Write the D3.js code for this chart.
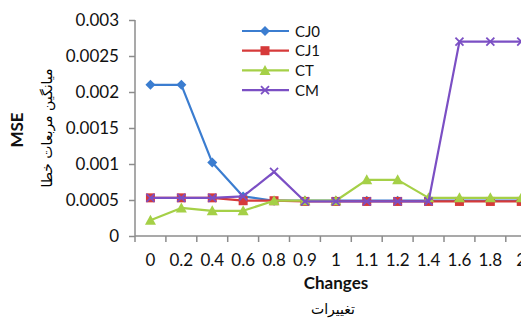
<!DOCTYPE html>
<html><head><meta charset="utf-8">
<script src="https://cdn.jsdelivr.net/npm/d3@7"></script>
<style>body{margin:0;background:#fff;overflow:hidden}svg{display:block}</style>
</head><body>
<script>
const categories = ["0","0.2","0.4","0.6","0.8","0.9","1","1.1","1.2","1.4","1.6","1.8","2"];
const cj0 = [0.0021,0.0021,0.00102,0.00055,0.00049,0.00049,0.00049,0.00049,0.00049,0.00049,0.00049,0.00049,0.00049];
const cj1 = [0.00053,0.00053,0.00053,0.00049,0.00049,0.00048,0.00048,0.00048,0.00048,0.00048,0.00048,0.00048,0.00048];
const ct  = [0.00022,0.00039,0.00035,0.00035,0.00049,0.00049,0.00049,0.00078,0.00078,0.00053,0.00053,0.00053,0.00053];
const cm  = [0.00053,0.00053,0.00053,0.00055,0.00089,0.00048,0.00048,0.00048,0.00048,0.00048,0.0027,0.0027,0.0027];
const seriesNames = ["CJ0","CJ1","CT","CM"];
const yTicks = [0,0.0005,0.001,0.0015,0.002,0.0025,0.003];

const series = [
  {name:seriesNames[0], values:cj0, color:"#3b7dd0", marker:"diamond"},
  {name:seriesNames[1], values:cj1, color:"#d63a3a", marker:"square"},
  {name:seriesNames[2], values:ct,  color:"#a5d047", marker:"triangle"},
  {name:seriesNames[3], values:cm,  color:"#7b4fc4", marker:"x"}
];

const W=521,H=320;
const svg=d3.select("body").append("svg").attr("width",W).attr("height",H);
const font="Lato, 'Open Sans', sans-serif";

const x=d3.scaleBand().domain(categories).range([135,536.7]);
const y=d3.scaleLinear().domain([0,0.003]).range([236,20]);

// y axis
const ya=svg.append("g").attr("transform","translate(135,0)")
  .call(d3.axisLeft(y).tickValues(yTicks).tickSize(6).tickPadding(10).tickFormat(d=>d===0?"0":String(+d.toFixed(4))));
ya.select(".domain").attr("stroke","#8c8c8c").attr("stroke-width",1.5).attr("d","M0,20V236");
ya.selectAll(".tick line").attr("stroke","#8c8c8c").attr("stroke-width",1.5);
ya.selectAll(".tick text").attr("font-family",font).attr("font-size",17).attr("fill","#111");

// x axis
const xa=svg.append("g").attr("transform","translate(0,236)")
  .call(d3.axisBottom(x).tickSize(0).tickPadding(18));
xa.select(".domain").attr("stroke","#8c8c8c").attr("stroke-width",1.5).attr("d","M135,0H536.7");
xa.selectAll(".tick line").remove();
xa.selectAll(".tick text").attr("font-family",font).attr("font-size",17).attr("fill","#111");
const edges=categories.map(c=>x(c));
xa.selectAll("line.tk").data(edges).join("line").attr("class","tk")
  .attr("x1",d=>d).attr("x2",d=>d).attr("y1",0).attr("y2",6)
  .attr("stroke","#8c8c8c").attr("stroke-width",1.5);

// titles
svg.append("text").attr("x",336).attr("y",289).attr("text-anchor","middle")
  .attr("font-family",font).attr("font-weight","bold").attr("font-size",17).attr("fill","#111").text("Changes");
svg.append("text").attr("x",333).attr("y",314).attr("text-anchor","middle").attr("direction","rtl")
  .attr("font-family","'DejaVu Sans', sans-serif").attr("font-size",14).attr("fill","#000").text("تغییرات");
svg.append("text").attr("transform","translate(23,130) rotate(-90)").attr("text-anchor","middle")
  .attr("font-family",font).attr("font-weight","bold").attr("font-size",17).attr("fill","#111").text("MSE");
svg.append("text").attr("transform","translate(52,128) rotate(-90)").attr("text-anchor","middle").attr("direction","rtl")
  .attr("font-family","'DejaVu Sans', sans-serif").attr("font-size",14).attr("fill","#000").text("میانگین مربعات خطا");

const cx=(i)=>x(categories[i])+x.bandwidth()/2;
function drawMarker(g,type,color){
  if(type==="diamond") g.append("path").attr("d","M0,-5L5,0L0,5L-5,0Z").attr("fill",color);
  else if(type==="square") g.append("rect").attr("x",-4.5).attr("y",-4.5).attr("width",9).attr("height",9).attr("fill",color);
  else if(type==="triangle") g.append("path").attr("d","M0,-5.5L5.5,4.5L-5.5,4.5Z").attr("fill",color);
  else g.append("path").attr("d","M-4,-4L4,4M-4,4L4,-4").attr("stroke",color).attr("stroke-width",1.8);
}

const line=d3.line().x((d,i)=>cx(i)).y(d=>y(d));
series.forEach(s=>{
  const g=svg.append("g");
  g.append("path").attr("d",line(s.values)).attr("fill","none").attr("stroke",s.color).attr("stroke-width",2.2).attr("stroke-linejoin","round");
  s.values.forEach((v,i)=>{
    const m=g.append("g").attr("transform",`translate(${cx(i)},${y(v)})`);
    drawMarker(m,s.marker,s.color);
  });
});

// legend
const lg=svg.append("g");
series.forEach((s,i)=>{
  const ly=31+i*19.7;
  lg.append("line").attr("x1",242).attr("x2",289).attr("y1",ly).attr("y2",ly).attr("stroke",s.color).attr("stroke-width",2.2);
  const m=lg.append("g").attr("transform",`translate(265,${ly})`);
  drawMarker(m,s.marker,s.color);
  lg.append("text").attr("x",295).attr("y",ly+5.5).attr("font-family",font).attr("font-size",15).attr("fill","#111").text(s.name);
});
</script>
</body></html>
